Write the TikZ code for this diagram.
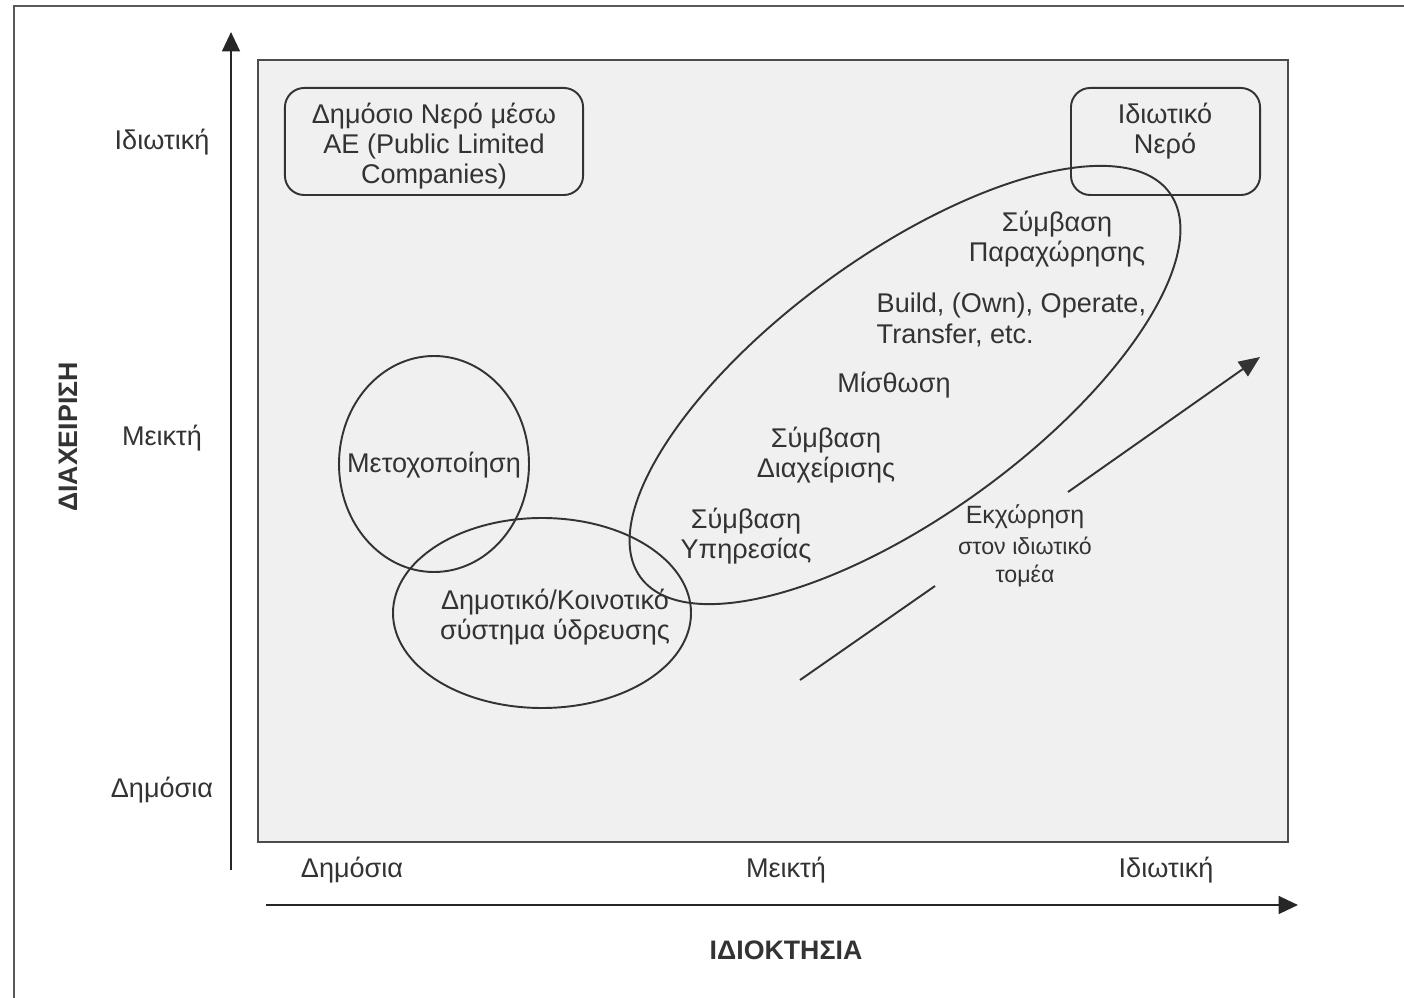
\documentclass[tikz,border=0pt]{standalone}
\usepackage{fontspec}
\setmainfont{Liberation Sans}
\usetikzlibrary{arrows.meta,positioning}

\begin{document}
\begin{tikzpicture}[
x=0.01cm, y=-0.01cm,
lbl/.style={
	font=\fontsize{7.7}{8.6}\selectfont,
	text=black!80, align=center, inner sep=0pt
},
small/.style={lbl, font=\fontsize{6.6}{7.9}\selectfont},
title/.style={lbl, font=\fontsize{7.6}{8.6}\selectfont\bfseries},
axis/.style={line width=0.75pt, draw=black!85, -{Triangle[length=5.5pt,width=5pt]}},
shape line/.style={line width=0.55pt, draw=black!80},
box/.style={lbl, shape line, rounded corners=5.5pt, minimum height=1.07cm}
]
\useasboundingbox (0,0) rectangle (1404,998);
% frame and field
\draw[line width=0.6pt, black!65] (1404,6) -- (14,6) -- (14,998);
\draw[line width=0.7pt, draw=black!70, fill=black!6] (258,60) rectangle (1288,842);

% axes
\coordinate (yfoot) at (231,870);
\coordinate (ytip) at (231,32);
\coordinate (xfoot) at (266,905);
\coordinate (xtip) at (1298,905);
\draw[axis] (yfoot) -- (ytip);
\draw[axis] (xfoot) -- (xtip);

\node[title, rotate=90] (mgmt) at (68,437) {ΔΙΑΧΕΙΡΙΣΗ};
\node[title] (own) at (786,950) {ΙΔΙΟΚΤΗΣΙΑ};
\node[lbl] (ypriv) at (162,142) {Ιδιωτική};
\node[lbl] (ymix) at (162,438) {Μεικτή};
\node[lbl] (ypub) at (162,790) {Δημόσια};
\node[lbl] (xpub) at (352,870) {Δημόσια};
\node[lbl] (xmix) at (786,870) {Μεικτή};
\node[lbl] (xpriv) at (1166,870) {Ιδιωτική};

% boxes
\node[box, minimum width=2.98cm] (plcbox) at (434,141.5) {};
\node[lbl] (plc) at (434,146) {Δημόσιο Νερό μέσω\\AE (Public Limited\\Companies)};
\node[box, minimum width=1.89cm] (privbox) at (1165.5,141.5) {};
\node[lbl] (privwater) at (1165,131) {Ιδιωτικό\\Νερό};

% ellipses
\draw[shape line] (434,464) ellipse [x radius=95, y radius=108];
\draw[shape line] (542,613) ellipse [x radius=149, y radius=95];
\draw[shape line, rotate around={36:(905,385)}] (905,385) ellipse [x radius=327, y radius=130];

\node[lbl] (shares) at (434,465) {Μετοχοποίηση};
\node[lbl] (munic) at (555,617) {Δημοτικό/Κοινοτικό\\σύστημα ύδρευσης};
\node[lbl] (concess) at (1057,239) {Σύμβαση\\Παραχώρησης};
\node[lbl, anchor=west, align=left] (boot) at (876,320) {Build, (Own), Operate,\\Transfer, etc.};
\node[lbl] (lease) at (894,385) {Μίσθωση};
\node[lbl] (manage) at (826,455) {Σύμβαση\\Διαχείρισης};
\node[lbl] (service) at (746,536) {Σύμβαση\\Υπηρεσίας};

% transfer arrow
\node[lbl, font=\fontsize{7.1}{8.2}\selectfont] (trans) at (1025,517) {Εκχώρηση};
\node[small, below=2pt of trans] (transsub) {στον ιδιωτικό\\τομέα};
\coordinate (gs) at (800,680);
\coordinate (g1) at (935,586);
\coordinate (g2) at (1068,492);
\coordinate (ge) at (1260,357);
\draw[shape line] (gs) -- (g1);
\draw[shape line, -{Triangle[length=6pt,width=5pt]}] (g2) -- (ge);
\end{tikzpicture}
\end{document}
